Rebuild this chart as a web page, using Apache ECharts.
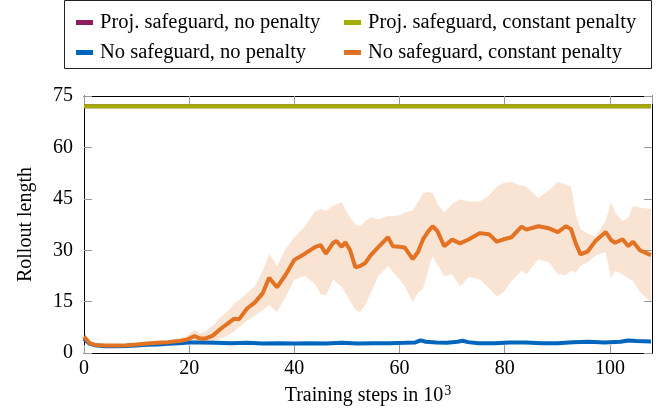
<!DOCTYPE html>
<html>
<head>
<meta charset="utf-8">
<script src="https://cdn.jsdelivr.net/npm/echarts@6/dist/echarts.min.js"></script>
<style>
  html, body { margin: 0; padding: 0; background: #fff; }
  #chart { width: 672px; height: 411px; }
</style>
</head>
<body>
<div id="chart"></div>
<script>
// 训练步数 (10^3)
const steps = [0, 1, 2, 4, 6, 8, 10, 12, 14, 16, 18, 19.5, 21, 22, 23, 24.5, 26, 27.5, 28.5, 29.5,
  31, 32.5, 34, 35.2, 36.7, 38.4, 40, 42, 44, 45, 46, 47.4, 48, 49, 49.7, 50.6, 51.6, 52.5, 53.5, 54.5,
  56, 57.8, 58.7, 60, 61, 62.5, 63.5, 64.5, 65.5, 66.3, 67.2, 68.5, 70, 71.5, 73.2, 75.3, 77, 78.5, 79.8, 81.3,
  83.2, 84.1, 86.4, 88.4, 90.1, 91.6, 92.6, 93.5, 94.4, 95.8, 97.3, 99.2, 100.2, 101, 102.4, 103.5, 104.4, 105.7, 107.8]

// No safeguard, constant penalty: 均值 / 上界 / 下界
const orangeMean = [4.8, 3.0, 2.4, 2.2, 2.2, 2.3, 2.5, 2.8, 3.0, 3.2, 3.5, 3.9, 5.0, 4.3, 4.2, 5.1, 7.1, 8.8, 10.0, 9.9,
  13.0, 14.8, 17.5, 22.0, 19.2, 23.0, 27.2, 29.0, 31.0, 31.5, 29.0, 32.2, 32.7, 31.0, 32.3, 30.0, 25.0, 25.4, 26.3, 28.5,
  31.0, 33.8, 31.2, 31.0, 30.8, 27.4, 29.5, 33.3, 35.6, 37.0, 35.6, 31.2, 33.1, 32.0, 33.2, 35.0, 34.7, 32.5, 33.2, 33.8,
  36.9, 36.0, 37.0, 36.4, 35.3, 37.0, 36.2, 32.0, 28.8, 29.7, 32.8, 35.3, 33.0, 32.2, 33.2, 31.2, 32.5, 30.0, 28.6]
const orangeUpper = [5.6, 3.5, 2.9, 2.6, 2.6, 2.7, 2.9, 3.2, 3.5, 3.8, 4.3, 4.9, 6.8, 5.8, 6.2, 8.0, 10.5, 12.5, 14.5, 15.5,
  17.5, 19.5, 24.0, 29.0, 25.4, 30.5, 33.8, 37.0, 41.4, 42.0, 41.5, 43.0, 43.4, 44.0, 42.0, 39.5, 37.5, 37.0, 38.5, 39.6,
  39.0, 40.0, 40.0, 40.2, 41.0, 41.6, 44.0, 46.7, 47.0, 46.7, 43.4, 41.1, 43.5, 44.9, 44.2, 44.3, 46.0, 48.6, 49.6, 49.9,
  48.8, 48.6, 45.2, 47.5, 49.9, 49.2, 48.6, 40.5, 36.2, 34.8, 34.0, 38.5, 44.0, 41.0, 38.5, 39.5, 42.9, 42.5, 42.0]
const orangeLower = [4.1, 2.5, 2.0, 1.8, 1.8, 1.9, 2.1, 2.3, 2.5, 2.7, 2.9, 3.2, 3.6, 3.2, 3.0, 3.4, 4.2, 5.2, 6.3, 7.6,
  9.5, 11.0, 12.5, 14.0, 12.0, 16.5, 21.5, 22.5, 20.0, 17.2, 16.8, 21.5, 20.5, 19.5, 17.5, 15.2, 12.5, 12.0, 14.0, 17.5,
  22.5, 25.4, 23.8, 21.5, 19.5, 14.9, 17.5, 19.0, 24.5, 28.3, 25.8, 22.5, 23.0, 19.5, 22.2, 21.5, 19.0, 16.5, 17.8, 21.0,
  24.0, 23.0, 27.4, 26.5, 23.0, 22.8, 24.0, 23.5, 25.5, 26.5, 28.5, 29.5, 22.0, 24.0, 23.0, 21.8, 21.0, 17.8, 14.9]

// No safeguard, no penalty
const blueSteps = [0, 1, 2, 4, 6, 8, 10, 12, 14, 16, 18, 20, 22, 25, 28, 31, 34, 37, 40, 43, 46, 49, 52, 55, 58,
  61, 63, 64, 65, 67, 69, 71, 72, 73, 75, 78, 81, 84, 87, 90, 93, 96, 99, 102, 103.5, 105, 107.8]
const blueMean = [4.2, 2.8, 2.3, 2.0, 2.0, 2.1, 2.2, 2.4, 2.5, 2.7, 2.9, 3.1, 3.1, 3.0, 2.9, 3.0, 2.8, 2.9, 2.8, 2.9, 2.8, 3.0, 2.8, 2.9, 2.9,
  3.0, 3.1, 3.7, 3.3, 3.1, 3.0, 3.3, 3.6, 3.2, 2.9, 2.9, 3.1, 3.1, 2.9, 2.9, 3.2, 3.3, 3.1, 3.3, 3.7, 3.5, 3.4]

// Proj. safeguard (两条线重合)
const projSteps = [0, 107.8]
const projNoPenalty = [72, 72]
const projConstPenalty = [72, 72]

const xTicks = { min: 0, max: 108, interval: 20 }
const yTicks = { min: 0, max: 75, interval: 15 }

const colorList = {
  purple: '#8F1D5A',
  yellow: '#A2AD00',
  blue: '#0065BD',
  orange: '#E37222',
  band: 'rgba(227,114,34,0.2)'
}

const font = 'Liberation Serif'
const chart = echarts.init(document.getElementById('chart'))

const pairs = (xs, ys) => xs.map((x, i) => [x, ys[i]])

const axisCommon = {
  type: 'value',
  axisLine: { show: true, onZero: false, lineStyle: { color: '#000', width: 1 } },
  axisTick: { show: true, inside: true, length: 8, lineStyle: { color: '#999' } },
  splitLine: { show: false }
}

const lineSeries = (name, xs, ys, color, width) => ({
  name,
  type: 'line',
  data: pairs(xs, ys),
  showSymbol: false,
  symbol: 'rect',
  lineStyle: { color, width },
  itemStyle: { color },
  animation: false,
  z: 3
})

const legendCommon = {
  orient: 'vertical',
  icon: 'rect',
  itemWidth: 17,
  itemHeight: 5,
  itemGap: 9,
  textStyle: { fontFamily: font, fontSize: 20.5, color: '#000', padding: [0, 0, 0, 2] },
  selectedMode: false
}

const option = {
  animation: false,
  textStyle: { fontFamily: font },
  grid: { left: 84, right: 20, top: 96, bottom: 57 },
  legend: [
    Object.assign({}, legendCommon, { left: 71, top: 7, data: ['Proj. safeguard, no penalty', 'No safeguard, no penalty'] }),
    Object.assign({}, legendCommon, { left: 339, top: 7, data: ['Proj. safeguard, constant penalty', 'No safeguard, constant penalty'] })
  ],
  graphic: [{
    type: 'rect',
    shape: { x: 64.5, y: 0.5, width: 587, height: 68 },
    style: { fill: 'none', stroke: '#222', lineWidth: 1 },
    silent: true
  }],
  xAxis: [
    Object.assign({}, axisCommon, xTicks, {
      position: 'bottom',
      name: '{t|Training steps in 10}{s|3}',
      nameLocation: 'middle',
      nameGap: 26,
      nameTextStyle: {
        fontFamily: font, fontSize: 20, color: '#000',
        rich: {
          t: { fontFamily: font, fontSize: 20, color: '#000' },
          s: { fontFamily: font, fontSize: 14, color: '#000', padding: [0, 0, 10, 1] }
        }
      },
      axisLabel: { fontFamily: font, fontSize: 20, color: '#000', margin: 6, showMaxLabel: false }
    }),
    Object.assign({}, axisCommon, xTicks, { position: 'top', axisLabel: { show: false } })
  ],
  yAxis: [
    Object.assign({}, axisCommon, yTicks, {
      position: 'left',
      name: 'Rollout length',
      nameLocation: 'middle',
      nameGap: 48,
      nameTextStyle: { fontFamily: font, fontSize: 20, color: '#000' },
      axisLabel: { fontFamily: font, fontSize: 20, color: '#000', margin: 11 }
    }),
    Object.assign({}, axisCommon, yTicks, { position: 'right', axisLabel: { show: false } })
  ],
  series: [
    {
      // 阴影区间
      type: 'custom',
      silent: true,
      clip: true,
      z: 1,
      data: [[0, 0]],
      renderItem: (params, api) => {
        const pts = []
        steps.forEach((s, i) => pts.push(api.coord([s, orangeUpper[i]])))
        for (let i = steps.length - 1; i >= 0; i--) pts.push(api.coord([steps[i], orangeLower[i]]))
        return { type: 'polygon', shape: { points: pts }, style: { fill: colorList.band } }
      }
    },
    lineSeries('No safeguard, no penalty', blueSteps, blueMean, colorList.blue, 4),
    lineSeries('No safeguard, constant penalty', steps, orangeMean, colorList.orange, 4),
    lineSeries('Proj. safeguard, no penalty', projSteps, projNoPenalty, colorList.purple, 4),
    lineSeries('Proj. safeguard, constant penalty', projSteps, projConstPenalty, colorList.yellow, 4)
  ]
}

chart.setOption(option)
</script>
</body>
</html>
